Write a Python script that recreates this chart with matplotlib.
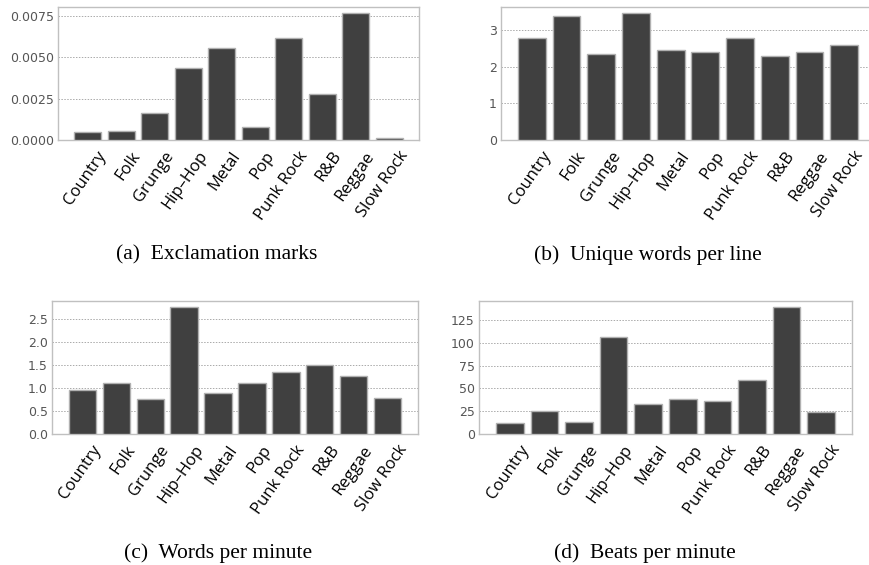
import matplotlib
matplotlib.use("Agg")
import matplotlib.pyplot as plt

# genres on the x axis of every panel
genres = ["Country", "Folk", "Grunge", "Hip\u2013Hop", "Metal", "Pop",
          "Punk Rock", "R&B", "Reggae", "Slow Rock"]

# values
exclamation = [0.00050, 0.00056, 0.00161, 0.00433, 0.00554, 0.00077,
               0.00619, 0.00276, 0.00766, 0.00014]
unique_words = [2.79, 3.38, 2.35, 3.45, 2.45, 2.40, 2.77, 2.29, 2.39, 2.58]
words_per_min = [0.96, 1.11, 0.76, 2.76, 0.89, 1.11, 1.35, 1.51, 1.27, 0.78]
beats_per_min = [11.7, 24.8, 13.1, 106.2, 32.8, 38.3, 36.1, 59.1, 139.0, 23.7]

# y ticks and captions
ticks_a = [0.0, 0.0025, 0.0050, 0.0075]
ticks_b = [0, 1, 2, 3]
ticks_c = [0.0, 0.5, 1.0, 1.5, 2.0, 2.5]
ticks_d = [0, 25, 50, 75, 100, 125]
captions = ["(a)  Exclamation marks", "(b)  Unique words per line",
            "(c)  Words per minute", "(d)  Beats per minute"]

W, H = 870, 565
fig = plt.figure(figsize=(W / 100, H / 100), dpi=100)


# place an axes by pixel box (left, top, right, bottom)
def box(l, t, r, b):
    return fig.add_axes([l / W, (H - b) / H, (r - l) / W, (b - t) / H])


def panel(ax, values, ticks, fmt):
    xs = range(len(genres))
    ax.bar(xs, values, width=0.8, color="#404040",
           edgecolor="#b0b0b0", linewidth=1.0, zorder=3)
    ax.set_yticks(ticks)
    ax.set_yticklabels([fmt % t for t in ticks], fontsize=9, color="#555555",
                       family="DejaVu Sans")
    # labels in the reference end a bit right of the bar centre,
    # tick marks are hidden so the tick spot just anchors the text
    ax.set_xticks([x + 0.27 for x in xs])
    ax.set_xticklabels(genres, rotation=55, ha="right",
                       rotation_mode="anchor", fontsize=12,
                       family="Open Sans", color="black")
    ax.tick_params(length=0, pad=3)
    ax.tick_params(axis="x", pad=6)
    ax.grid(axis="y", linestyle=(0, (1.5, 1.5)), color="#aaaaaa", linewidth=0.7,
            zorder=0)
    for s in ax.spines.values():
        s.set_color("#c0c0c0")
        s.set_linewidth(1.0)


ax_a = box(58, 7, 419, 140)
panel(ax_a, exclamation, ticks_a, "%.4f")
ax_b = box(501, 7, 875, 140)
panel(ax_b, unique_words, ticks_b, "%d")
ax_c = box(52, 301, 418, 434)
panel(ax_c, words_per_min, ticks_c, "%.1f")
ax_d = box(479, 301, 852, 434)
panel(ax_d, beats_per_min, ticks_d, "%d")

cap_pos = [(217, 255), (648, 255), (218, 553), (645, 553)]
for (cx, cy), txt in zip(cap_pos, captions):
    fig.text(cx / W, (H - cy) / H, txt, ha="center", va="center",
             fontsize=15.5, family="Liberation Serif")

fig.savefig("out.png", dpi=100)
